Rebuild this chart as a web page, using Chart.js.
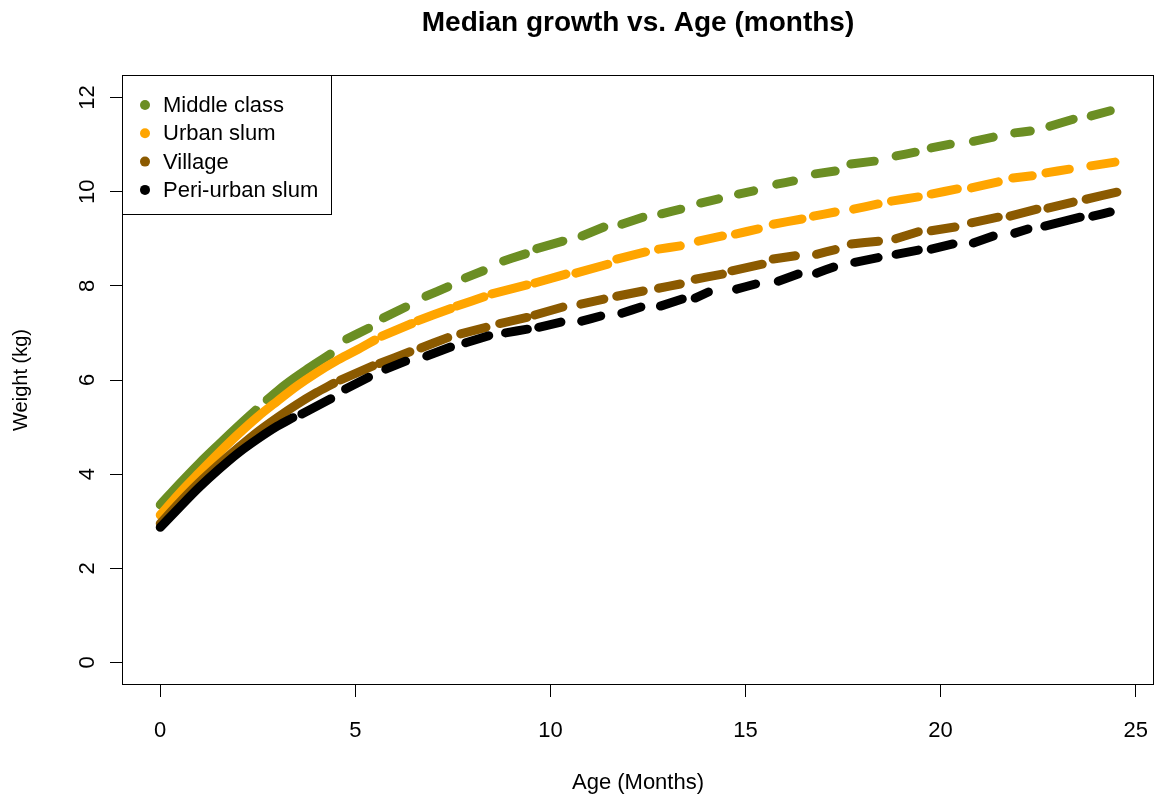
<!DOCTYPE html>
<html><head><meta charset="utf-8">
<script src="https://cdn.jsdelivr.net/npm/chart.js@4.4.1/dist/chart.umd.min.js"></script>
<style>html,body{margin:0;padding:0;background:#fff;} canvas{display:block;}</style>
</head><body>
<canvas id="c" width="1160" height="798"></canvas>
<script>
// ---- data (ages in months, weights in kg); null separates clusters of observations ----
const chartTitle = 'Median growth vs. Age (months)';
const seriesNames = ['Middle class', 'Urban slum', 'Village', 'Peri-urban slum'];

const mcAge = [0,0.5,1,1.5,2,2.45,null, 2.74,3.2,3.8,4.36,null, 4.78,5.34,null, 5.72,6.29,null, 6.81,7.37,null, 7.82,8.28,null, 8.8,9.36,null, 9.65,10.32,null, 10.81,11.37,null, 11.83,12.37,null, 12.85,13.34,null, 13.85,14.31,null, 14.82,15.21,null, 15.8,16.23,null, 16.79,17.3,null, 17.7,18.3,null, 18.86,19.35,null, 19.76,20.25,null, 20.84,21.35,null, 21.9,22.3,null, 22.8,23.4,null, 23.86,24.35];
const mcWeight = [3.35,3.8,4.23,4.63,5.02,5.36,null, 5.58,5.9,6.25,6.55,null, 6.87,7.1,null, 7.32,7.55,null, 7.78,7.98,null, 8.17,8.32,null, 8.53,8.68,null, 8.79,8.95,null, 9.06,9.25,null, 9.31,9.46,null, 9.53,9.63,null, 9.76,9.85,null, 9.95,10.02,null, 10.16,10.23,null, 10.38,10.44,null, 10.59,10.65,null, 10.76,10.84,null, 10.93,11.01,null, 11.07,11.16,null, 11.25,11.29,null, 11.39,11.54,null, 11.61,11.72];

const usAge = [0,0.5,1,1.5,2,2.5,3,3.5,4,4.5,5,5.5,null, 5.68,6.45,null, 6.6,7.45,null, 7.6,8.3,null, 8.5,9.4,null, 9.6,10.4,null, 10.65,11.47,null, 11.7,12.44,null, 12.77,13.33,null, 13.79,14.41,null, 14.74,15.33,null, 15.71,16.45,null, 16.74,17.3,null, 17.77,18.4,null, 18.74,19.43,null, 19.76,20.43,null, 20.79,21.48,null, 21.85,22.35,null, 22.7,23.3,null, 23.85,24.47];
const usWeight = [3.13,3.6,4.03,4.45,4.85,5.22,5.55,5.87,6.15,6.4,6.62,6.85,null, 6.93,7.2,null, 7.26,7.52,null, 7.57,7.77,null, 7.83,8.02,null, 8.06,8.25,null, 8.27,8.46,null, 8.57,8.72,null, 8.78,8.85,null, 8.95,9.06,null, 9.1,9.21,null, 9.31,9.42,null, 9.48,9.57,null, 9.63,9.74,null, 9.8,9.89,null, 9.95,10.06,null, 10.08,10.21,null, 10.29,10.34,null, 10.4,10.48,null, 10.55,10.63];

const vAge = [0,0.5,1,1.5,2,2.5,3,3.5,4,4.45,null, 4.62,5.45,null, 5.62,6.4,null, 6.68,7.37,null, 7.7,8.35,null, 8.7,9.4,null, 9.6,10.32,null, 10.78,11.37,null, 11.7,12.38,null, 12.77,13.33,null, 13.71,14.41,null, 14.65,15.43,null, 15.71,16.28,null, 16.82,17.3,null, 17.71,18.41,null, 18.85,19.43,null, 19.76,20.37,null, 20.79,21.48,null, 21.78,22.47,null, 22.75,23.4,null, 23.73,24.52];
const vWeight = [2.95,3.4,3.82,4.2,4.56,4.9,5.2,5.48,5.73,5.93,null, 6.0,6.3,null, 6.35,6.6,null, 6.68,6.9,null, 6.98,7.12,null, 7.2,7.33,null, 7.38,7.55,null, 7.61,7.72,null, 7.78,7.89,null, 7.95,8.04,null, 8.14,8.25,null, 8.32,8.46,null, 8.57,8.64,null, 8.67,8.77,null, 8.89,8.95,null, 9.0,9.15,null, 9.17,9.25,null, 9.34,9.46,null, 9.48,9.63,null, 9.65,9.78,null, 9.84,9.99];

const puAge = [0,0.5,1,1.5,2,2.5,3,3.4,null, 3.63,4.37,null, 4.75,5.34,null, 5.78,6.29,null, 6.83,7.44,null, 7.83,8.42,null, 8.85,9.41,null, 9.7,10.27,null, 10.8,11.29,null, 11.83,12.32,null, 12.82,13.38,null, 13.71,14.05,null, 14.77,15.26,null, 15.84,16.35,null, 16.82,17.26,null, 17.8,18.4,null, 18.86,19.43,null, 19.76,20.32,null, 20.84,21.35,null, 21.9,22.24,null, 22.67,23.58,null, 23.9,24.35];
const puWeight = [2.87,3.3,3.72,4.1,4.45,4.75,5.02,5.2,null, 5.28,5.6,null, 5.81,6.06,null, 6.23,6.4,null, 6.51,6.7,null, 6.79,6.94,null, 7.0,7.08,null, 7.12,7.23,null, 7.25,7.36,null, 7.42,7.55,null, 7.57,7.72,null, 7.74,7.87,null, 7.93,8.04,null, 8.1,8.25,null, 8.27,8.4,null, 8.5,8.6,null, 8.67,8.76,null, 8.78,8.89,null, 8.91,9.06,null, 9.12,9.21,null, 9.27,9.46,null, 9.48,9.57];

const xTicks = [0, 5, 10, 15, 20, 25];
const yTicks = [0, 2, 4, 6, 8, 10, 12];

// ---- styles ----
const seriesColors = ['#6B8E23', '#FFA500', '#8B5A00', '#000000'];
const FONT = "'Liberation Sans', Arial, sans-serif";
Chart.defaults.font.family = FONT;
Chart.defaults.color = '#000';

function toPoints(ages, weights) {
  return ages.map((a, i) => ({ x: a, y: weights[i] }));
}
const seriesData = [[mcAge, mcWeight], [usAge, usWeight], [vAge, vWeight], [puAge, puWeight]];

const datasets = seriesData.map((s, i) => ({
  label: seriesNames[i],
  data: toPoints(s[0], s[1]),
  borderColor: seriesColors[i],
  backgroundColor: seriesColors[i],
  borderWidth: 9,
  borderCapStyle: 'round',
  borderJoinStyle: 'round',
  cubicInterpolationMode: 'monotone',
  pointRadius: 0,
  pointHoverRadius: 0,
  showLine: true,
  spanGaps: false,
  order: 4 - i
}));

const rPlot = {
  id: 'rPlot',
  afterDraw(chart) {
    const { ctx, chartArea: a } = chart;
    ctx.save();
    // title centred over the plot region
    ctx.fillStyle = '#000';
    ctx.font = 'bold 28px ' + FONT;
    ctx.textAlign = 'center';
    ctx.textBaseline = 'middle';
    ctx.fillText(chartTitle, (a.left + a.right) / 2, 23);
    // plot box
    ctx.strokeStyle = '#000';
    ctx.lineWidth = 1;
    ctx.strokeRect(a.left + 0.5, a.top + 0.5, a.right - a.left - 1, a.bottom - a.top - 1);
    // legend box (top-left)
    const lx = a.left, ly = a.top, lw = 209, lh = 139;
    ctx.fillStyle = '#fff';
    ctx.fillRect(lx + 1, ly + 1, lw - 1, lh - 1);
    ctx.strokeRect(lx + 0.5, ly + 0.5, lw, lh);
    ctx.font = '22px ' + FONT;
    ctx.textBaseline = 'middle';
    ctx.textAlign = 'left';
    chart.data.datasets.forEach((d, i) => {
      const y = ly + 30 + i * 28.3;
      ctx.beginPath();
      ctx.arc(lx + 23, y, 5, 0, Math.PI * 2);
      ctx.fillStyle = d.borderColor;
      ctx.fill();
      ctx.fillStyle = '#000';
      ctx.fillText(d.label, lx + 41, y + 1);
    });
    ctx.restore();
  }
};

new Chart(document.getElementById('c'), {
  type: 'scatter',
  data: { datasets },
  options: {
    responsive: false,
    animation: false,
    events: [],
    devicePixelRatio: 1,
    layout: { padding: { left: 0, right: 6, top: 75, bottom: 0 } },
    plugins: {
      legend: { display: false },
      tooltip: { enabled: false },
      title: { display: false }
    },
    scales: {
      x: {
        type: 'linear',
        min: -0.98, max: 25.47,
        afterBuildTicks: s => { s.ticks = xTicks.map(v => ({ value: v })); },
        afterFit: s => { s.height = 113; s.paddingLeft = 0; s.paddingRight = 0; },
        grid: { display: true, drawOnChartArea: false, drawTicks: true, tickLength: 12, color: '#000', lineWidth: 1 },
        border: { display: false },
        ticks: { font: { size: 22 }, padding: 21, color: '#000', maxRotation: 0, minRotation: 0, autoSkip: false },
        title: { display: true, text: 'Age (Months)', color: '#000', font: { size: 22 }, padding: { top: 0, bottom: 2 } }
      },
      y: {
        type: 'linear',
        min: -0.48, max: 12.48,
        afterBuildTicks: s => { s.ticks = yTicks.map(v => ({ value: v })); },
        afterFit: s => { s.width = 122; s.paddingTop = 0; s.paddingBottom = 0; },
        grid: { display: true, drawOnChartArea: false, drawTicks: true, tickLength: 12, color: '#000', lineWidth: 1 },
        border: { display: false },
        ticks: { font: { size: 22 }, padding: 10, color: '#000', minRotation: 90, maxRotation: 90, crossAlign: 'center', autoSkip: false },
        title: { display: true, text: 'Weight (kg)', color: '#000', font: { size: 20 }, padding: { top: 9, bottom: 0 } }
      }
    }
  },
  plugins: [rPlot]
});
</script>
</body></html>
